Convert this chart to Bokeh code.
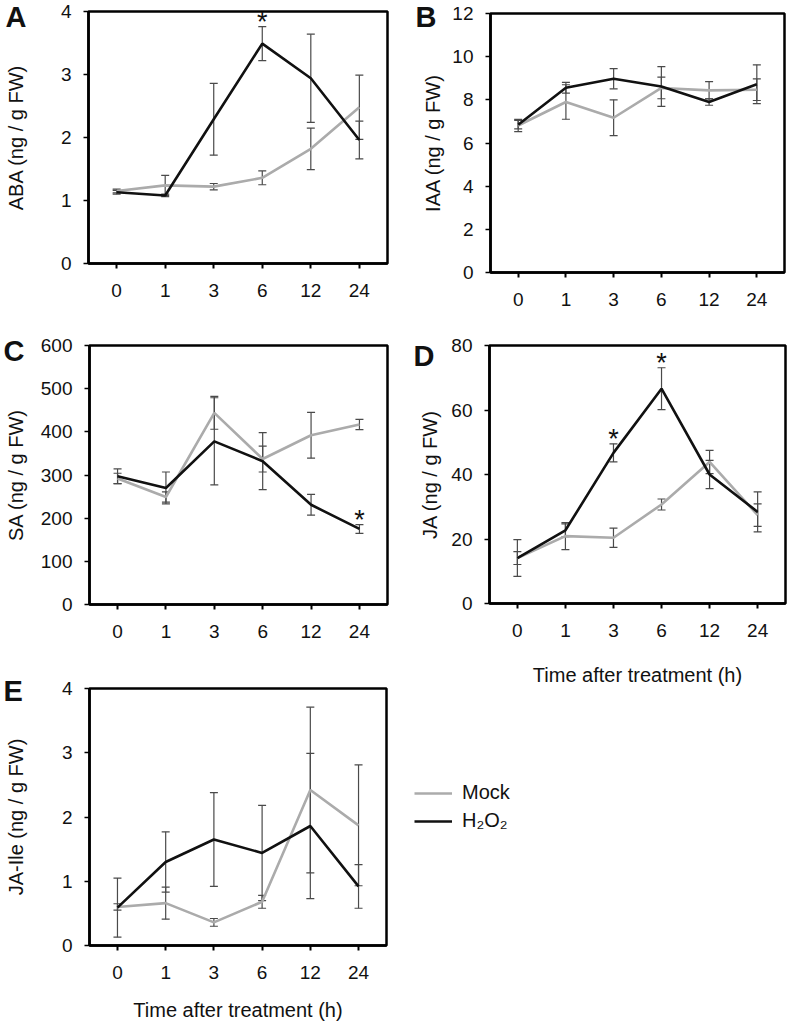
from bokeh.plotting import figure
from bokeh.layouts import column, row
from bokeh.models import (ColumnDataSource, Whisker, TeeHead, Legend, LegendItem,
                          FactorRange, Range1d, FixedTicker, Label)
from bokeh.core.properties import value
from bokeh.embed import file_html
from bokeh.resources import INLINE

# ---------------- data ----------------
times = ["0", "1", "3", "6", "12", "24"]

aba_mock = [1.15, 1.24, 1.22, 1.36, 1.82, 2.48]
aba_mock_err = [0.03, 0.16, 0.05, 0.11, 0.33, 0.51]
aba_h2o2 = [1.13, 1.08, 2.29, 3.49, 2.94, 1.96]
aba_h2o2_err = [0.03, 0.02, 0.57, 0.27, 0.70, 0.30]
aba_sig = ["6"]

iaa_mock = [6.81, 7.90, 7.17, 8.55, 8.44, 8.47]
iaa_mock_err = [0.28, 0.80, 0.83, 0.50, 0.40, 0.50]
iaa_h2o2 = [6.85, 8.56, 8.98, 8.62, 7.90, 8.72]
iaa_h2o2_err = [0.20, 0.25, 0.47, 0.92, 0.15, 0.90]
iaa_sig = []

sa_mock = [292, 249, 444, 337, 392, 417]
sa_mock_err = [12, 12, 38, 30, 53, 12]
sa_h2o2 = [297, 270, 378, 332, 231, 175]
sa_h2o2_err = [17, 37, 101, 66, 24, 10]
sa_sig = ["24"]

ja_mock = [14.1, 20.9, 20.4, 30.7, 43.9, 27.4]
ja_mock_err = [2.0, 4.2, 3.0, 1.7, 3.6, 3.5]
ja_h2o2 = [14.1, 22.7, 46.7, 66.6, 40.0, 28.4]
ja_h2o2_err = [5.7, 2.0, 2.8, 6.5, 4.4, 6.2]
ja_sig = ["3", "6"]

jaile_mock = [0.60, 0.66, 0.36, 0.68, 2.42, 1.87]
jaile_mock_err = [0.05, 0.25, 0.06, 0.10, 1.29, 0.94]
jaile_h2o2 = [0.59, 1.30, 1.65, 1.44, 1.86, 0.92]
jaile_h2o2_err = [0.46, 0.47, 0.73, 0.74, 1.13, 0.34]
jaile_sig = []

series_labels = ["Mock", "H\u2082O\u2082"]
x_title = "Time after treatment (h)"

# ---------------- style ----------------
FONT = "Liberation Sans"
MOCK_COLOR = "#ababab"
H2O2_COLOR = "#111111"
ERR_COLOR = "#4a4a4a"


def make_panel(letter, ylabel, ymax, ystep, mock, mock_err, h2o2, h2o2_err, sig,
               width, height, bl, br, bt, bb, ylab_standoff, letter_dxy,
               xtitle=None, xtitle_standoff=0):
    p = figure(x_range=FactorRange(factors=times, range_padding=0.08,
                                   range_padding_units="absolute"),
               y_range=Range1d(0, ymax),
               width=width, height=height, min_border_left=bl, min_border_right=br,
               min_border_top=bt, min_border_bottom=bb, frame_align=False,
               output_backend="svg", toolbar_location=None, tools="")
    p.grid.visible = False
    p.outline_line_color = "black"
    p.outline_line_width = 2.5
    p.outline_line_alpha = 1.0
    p.background_fill_color = "white"
    p.border_fill_color = "white"

    ya = p.yaxis[0]
    ya.ticker = FixedTicker(ticks=list(range(0, ymax + 1, ystep)))
    ya.axis_line_width = 2.5
    ya.major_tick_out = 5
    ya.major_tick_in = 0
    ya.major_tick_line_width = 1.5
    ya.minor_tick_line_color = None
    ya.major_label_standoff = 12
    ya.major_label_text_font = FONT
    ya.major_label_text_font_size = "19px"
    ya.major_label_text_color = "#111111"
    ya.axis_label = ylabel
    ya.axis_label_text_font = FONT
    ya.axis_label_text_font_size = "20px"
    ya.axis_label_text_font_style = "normal"
    ya.axis_label_text_color = "#111111"
    ya.axis_label_standoff = ylab_standoff

    xa = p.xaxis[0]
    xa.axis_line_width = 2.5
    xa.major_tick_out = 5
    xa.major_tick_in = 0
    xa.major_tick_line_width = 2
    xa.major_label_standoff = 15
    xa.major_label_text_font = FONT
    xa.major_label_text_font_size = "19px"
    xa.major_label_text_color = "#111111"
    if xtitle:
        xa.axis_label = xtitle
        xa.axis_label_text_font = FONT
        xa.axis_label_text_font_size = "20px"
        xa.axis_label_text_font_style = "normal"
        xa.axis_label_text_color = "#111111"
        xa.axis_label_standoff = xtitle_standoff

    src_m = ColumnDataSource(dict(t=times, y=mock,
                                  up=[v + e for v, e in zip(mock, mock_err)],
                                  lo=[v - e for v, e in zip(mock, mock_err)]))
    src_h = ColumnDataSource(dict(t=times, y=h2o2,
                                  up=[v + e for v, e in zip(h2o2, h2o2_err)],
                                  lo=[v - e for v, e in zip(h2o2, h2o2_err)]))

    p.line("t", "y", source=src_m, line_color=MOCK_COLOR, line_width=2.6)
    p.line("t", "y", source=src_h, line_color=H2O2_COLOR, line_width=2.6)

    for src in (src_m, src_h):
        w = Whisker(source=src, base="t", upper="up", lower="lo", dimension="height",
                    line_color=ERR_COLOR, line_width=1.2,
                    upper_head=TeeHead(size=8, line_color=ERR_COLOR, line_width=1.2),
                    lower_head=TeeHead(size=8, line_color=ERR_COLOR, line_width=1.2))
        p.add_layout(w)

    if sig:
        idx = [times.index(s) for s in sig]
        sy = [h2o2[i] + h2o2_err[i] for i in idx]
        p.text(x=sig, y=sy, text=["*"] * len(sig), text_font=value(FONT),
               text_font_size="27px", text_align="center", text_baseline="alphabetic",
               y_offset=-5, text_color="#111111")

    dx, dy = letter_dxy
    p.add_layout(Label(x=dx, y=dy, x_units="screen", y_units="screen",
                       text=letter, text_font=FONT, text_font_size="29px",
                       text_font_style="bold", text_baseline="top", text_align="left",
                       text_color="#111111"), "above")
    return p


pA = make_panel("A", "ABA (ng / g FW)", 4, 1, aba_mock, aba_mock_err, aba_h2o2,
                aba_h2o2_err, aba_sig, 395, 335, 88, 8, 37, 46, 31, (-83, 11))
pC = make_panel("C", "SA (ng / g FW)", 600, 100, sa_mock, sa_mock_err, sa_h2o2,
                sa_h2o2_err, sa_sig, 395, 343, 89, 8, 36, 48, 11, (-86, 11))
pE = make_panel("E", "JA-Ile (ng / g FW)", 4, 1, jaile_mock, jaile_mock_err,
                jaile_h2o2, jaile_h2o2_err, jaile_sig, 395, 378, 89, 9, 36, 85,
                32, (-86, 14), xtitle=x_title, xtitle_standoff=17)
pB = make_panel("B", "IAA (ng / g FW)", 12, 2, iaa_mock, iaa_mock_err, iaa_h2o2,
                iaa_h2o2_err, iaa_sig, 394, 337, 95, 5, 39, 39, 5, (-75, 13))
pD = make_panel("D", "JA (ng / g FW)", 80, 20, ja_mock, ja_mock_err, ja_h2o2,
                ja_h2o2_err, ja_sig, 394, 379, 94, 4, 34, 87, 7, (-76, 6),
                xtitle=x_title, xtitle_standoff=24)

# legend panel (its own small figure so the key is not clipped by a plot frame)
pL = figure(width=394, height=160, x_range=Range1d(0, 1), y_range=Range1d(0, 1),
            min_border_left=0, min_border_right=0, min_border_top=0, min_border_bottom=0,
            x_axis_location=None, y_axis_location=None, frame_align=False,
            output_backend="svg", toolbar_location=None, tools="")
pL.grid.visible = False
pL.outline_line_color = None
nan = float("nan")
leg_m = pL.line(x=[nan], y=[nan], line_color=MOCK_COLOR, line_width=2.6)
leg_h = pL.line(x=[nan], y=[nan], line_color=H2O2_COLOR, line_width=2.6)
legend = Legend(items=[LegendItem(label=series_labels[0], renderers=[leg_m]),
                       LegendItem(label=series_labels[1], renderers=[leg_h])],
                location=(19, 18), orientation="vertical",
                border_line_color=None, background_fill_alpha=0,
                padding=0, margin=0, spacing=5,
                glyph_width=38, glyph_height=20, label_height=20,
                label_standoff=10, label_text_font=FONT, label_text_font_size="20px",
                label_text_color="#111111")
pL.add_layout(legend, "center")

layout = row(column(pA, pC, pE), column(pB, pD, pL), margin=(-26, 0, 0, 0))
open("out.html", "w").write(file_html(layout, INLINE))
